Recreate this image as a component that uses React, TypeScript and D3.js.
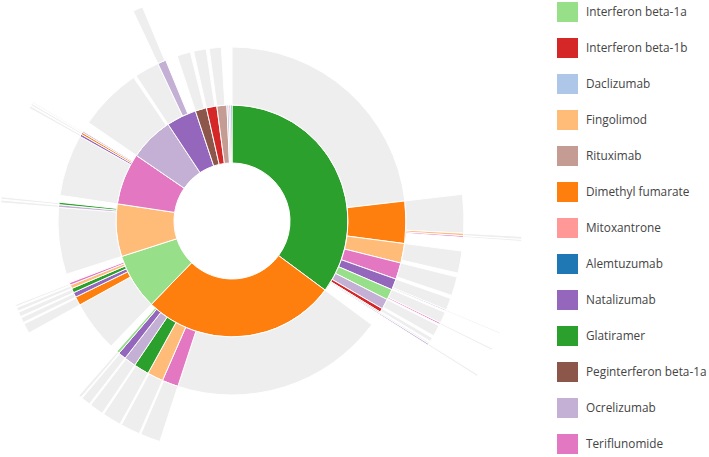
import React from 'react';
import * as d3 from 'd3';

const width = 709;
const height = 457;
const cx = 232;
const cy = 221;
const radius = 290;

// legend order, codes used in the sequences below
const drugCodes = ['IFa', 'IFb', 'DAC', 'FIN', 'RTX', 'DMF', 'MIT', 'ALE', 'NAT', 'GLA', 'PEG', 'OCR', 'TER'];
const drugNames = [
  'Interferon beta-1a',
  'Interferon beta-1b',
  'Daclizumab',
  'Fingolimod',
  'Rituximab',
  'Dimethyl fumarate',
  'Mitoxantrone',
  'Alemtuzumab',
  'Natalizumab',
  'Glatiramer',
  'Peginterferon beta-1a',
  'Ocrelizumab',
  'Teriflunomide',
];
const drugColors = [
  '#98df8a', '#d62728', '#aec7e8', '#ffbb78', '#c49c94', '#ff7f0e', '#ff9896',
  '#1f77b4', '#9467bd', '#2ca02c', '#8c564b', '#c5b0d5', '#e377c2',
];
const endColor = '#eeeeee';

// treatment sequences (patients). END = stayed on last drug, OTH = rare paths, not drawn
const glatiramerSeq: [string, number][] = [
  ['GLA>END', 830],
  ['GLA>DMF>END', 96],
  ['GLA>DMF>FIN>END', 6],
  ['GLA>DMF>TER>END', 4],
  ['GLA>DMF>OTH', 34],
  ['GLA>FIN>END', 55],
  ['GLA>FIN>OTH', 10],
  ['GLA>TER>END', 47],
  ['GLA>TER>OTH', 8],
  ['GLA>NAT>END', 30],
  ['GLA>NAT>OCR>END', 3],
  ['GLA>NAT>OTH', 4],
  ['GLA>IFa>END', 28],
  ['GLA>IFa>TER>END', 4],
  ['GLA>IFa>OTH', 4],
  ['GLA>OCR>END', 28],
  ['GLA>OCR>OTH', 6],
  ['GLA>IFb>END', 10],
  ['GLA>IFb>OTH', 3],
  ['GLA>RTX>END', 4],
  ['GLA>DAC>OCR>END', 4],
  ['GLA>OTH', 42],
];

const dimethylSeq: [string, number][] = [
  ['DMF>END', 712],
  ['DMF>TER>END', 50],
  ['DMF>TER>OTH', 4],
  ['DMF>FIN>END', 49],
  ['DMF>FIN>OTH', 4],
  ['DMF>GLA>END', 47],
  ['DMF>GLA>OTH', 4],
  ['DMF>OCR>END', 35],
  ['DMF>OCR>OTH', 4],
  ['DMF>NAT>END', 23],
  ['DMF>NAT>OTH', 3],
  ['DMF>IFa>END', 7],
  ['DMF>IFa>OTH', 2],
  ['DMF>OTH', 26],
];

const ifnb1aSeq: [string, number][] = [
  ['IFa>END', 170],
  ['IFa>DMF>END', 25],
  ['IFa>DMF>OTH', 4],
  ['IFa>NAT>END', 13],
  ['IFa>NAT>OTH', 3],
  ['IFa>GLA>END', 12],
  ['IFa>GLA>OTH', 3],
  ['IFa>FIN>END', 9],
  ['IFa>FIN>OTH', 3],
  ['IFa>TER>END', 5],
  ['IFa>TER>OTH', 3],
  ['IFa>OTH', 30],
];

const fingolimodSeq: [string, number][] = [
  ['FIN>END', 222],
  ['FIN>OCR>END', 7],
  ['FIN>OCR>OTH', 2],
  ['FIN>GLA>END', 6],
  ['FIN>GLA>OTH', 2],
  ['FIN>OTH', 23],
];

const teriflunomideSeq: [string, number][] = [
  ['TER>END', 205],
  ['TER>NAT>END', 6],
  ['TER>NAT>OTH', 2],
  ['TER>DMF>END', 5],
  ['TER>DMF>OTH', 2],
  ['TER>OCR>END', 3],
  ['TER>OCR>OTH', 2],
  ['TER>OTH', 33],
];

const ocrelizumabSeq: [string, number][] = [
  ['OCR>END', 210],
  ['OCR>OTH', 10],
];

const natalizumabSeq: [string, number][] = [
  ['NAT>END', 82],
  ['NAT>OCR>END', 25],
  ['NAT>OCR>OTH', 3],
  ['NAT>OTH', 40],
];

const smallSeq: [string, number][] = [
  ['PEG>END', 45],
  ['PEG>OTH', 11],
  ['IFb>END', 42],
  ['IFb>OTH', 10],
  ['RTX>END', 40],
  ['RTX>OTH', 10],
  ['DAC', 10],
  ['MIT', 9],
  ['ALE', 6],
];

type Node = { name: string; size?: number; children?: Node[] };

function buildHierarchy(rows: [string, number][]): Node {
  const root: Node = { name: 'root', children: [] };
  rows.forEach(([path, size]) => {
    const parts = path.split('>');
    let current = root;
    parts.forEach((part, i) => {
      if (i === parts.length - 1) {
        current.children!.push({ name: part, size });
        return;
      }
      let child = current.children!.find((c) => c.name === part && c.children);
      if (!child) {
        child = { name: part, children: [] };
        current.children!.push(child);
      }
      current = child;
    });
  });
  return root;
}

const App = () => {
  const rows = [
    ...glatiramerSeq,
    ...dimethylSeq,
    ...ifnb1aSeq,
    ...fingolimodSeq,
    ...teriflunomideSeq,
    ...ocrelizumabSeq,
    ...natalizumabSeq,
    ...smallSeq,
  ];

  const root = d3
    .hierarchy<Node>(buildHierarchy(rows))
    .sum((d) => d.size || 0)
    .sort((a, b) => {
      const ao = a.data.name === 'OTH' ? 1 : 0;
      const bo = b.data.name === 'OTH' ? 1 : 0;
      return ao - bo || (b.value as number) - (a.value as number);
    });

  d3.partition<Node>().size([2 * Math.PI, radius])(root);

  const color = d3
    .scaleOrdinal<string, string>()
    .domain([...drugCodes, 'END'])
    .range([...drugColors, endColor]);

  const arc = d3
    .arc<any>()
    .startAngle((d) => d.x0)
    .endAngle((d) => d.x1)
    .innerRadius((d) => d.y0)
    .outerRadius((d) => d.y1);

  // tiny arcs are skipped, like in the sequences sunburst
  const nodes = root
    .descendants()
    .filter((d: any) => d.depth > 0 && d.data.name !== 'OTH' && d.x1 - d.x0 > 0.005);

  const legendY = d3
    .scalePoint<string>()
    .domain(drugNames)
    .range([2, 2 + 36 * (drugNames.length - 1)]);

  return (
    <svg
      width={width}
      height={height}
      style={{ position: 'absolute', left: 0, top: 0, background: '#fff' }}
    >
      <g transform={`translate(${cx},${cy})`}>
        {nodes.map((d, i) => (
          <path
            key={i}
            d={arc(d) as string}
            fill={color(d.data.name)}
            stroke="#fff"
            strokeWidth={1}
          />
        ))}
      </g>
      <g transform="translate(557,0)">
        {drugNames.map((name, i) => (
          <g key={name} transform={`translate(0,${legendY(name)})`}>
            <rect width={21} height={20} fill={drugColors[i]} />
            <text
              x={29}
              y={10}
              dy="0.35em"
              fontFamily="'Segoe UI', 'Open Sans', sans-serif"
              fontSize={11.8}
              fill="#444"
            >
              {name}
            </text>
          </g>
        ))}
      </g>
    </svg>
  );
};

export default App;
